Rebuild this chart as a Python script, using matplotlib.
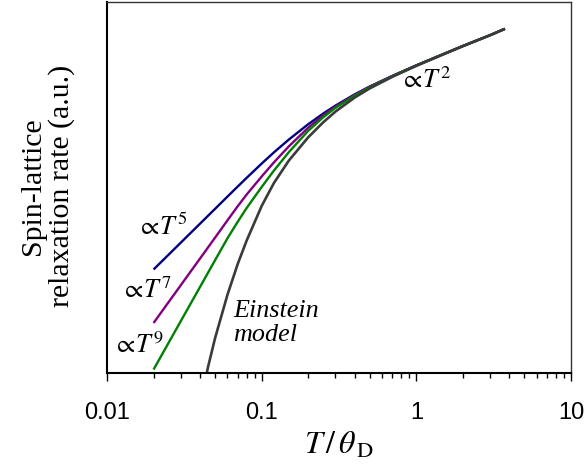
import matplotlib
matplotlib.use("Agg")
import matplotlib.pyplot as plt
from matplotlib.ticker import LogLocator, NullFormatter, FixedLocator, FixedFormatter

plt.rcParams["mathtext.fontset"] = "stix"

# Reduced temperature T/theta_D
x_low = [0.02, 0.03, 0.04, 0.05, 0.06, 0.07, 0.08, 0.1, 0.12, 0.15, 0.2, 0.25, 0.3,
         0.4, 0.5, 0.7, 1.0, 1.5, 2.0, 3.0, 3.74]

# Debye-type Raman rates (arbitrary units)
rate_t5 = [2.41e-9, 1.82e-8, 7.63e-8, 2.32e-7, 5.77e-7, 1.24e-6, 2.39e-6, 6.97e-6,
           1.62e-5, 4.27e-5, 1.35e-4, 3.01e-4, 5.48e-4, 1.28e-3, 2.31e-3, 5.12e-3,
           1.13e-2, 2.66e-2, 4.86e-2, 0.110, 0.177]
rate_t7 = [4.31e-11, 7.40e-10, 5.56e-9, 2.66e-8, 9.63e-8, 2.82e-7, 6.81e-7, 2.64e-6,
           7.63e-6, 2.56e-5, 1.04e-4, 2.62e-4, 5.08e-4, 1.23e-3, 2.27e-3, 5.08e-3,
           1.13e-2, 2.66e-2, 4.86e-2, 0.110, 0.177]
rate_t9 = [1.30e-12, 4.97e-11, 6.56e-10, 4.89e-9, 2.49e-8, 8.74e-8, 2.47e-7, 1.20e-6,
           4.12e-6, 1.66e-5, 8.22e-5, 2.27e-4, 4.61e-4, 1.17e-3, 2.17e-3, 5.00e-3,
           1.12e-2, 2.65e-2, 4.86e-2, 0.110, 0.177]

# Einstein model
x_ein = [0.04, 0.045, 0.05, 0.06, 0.07, 0.08, 0.1, 0.12, 0.15, 0.2, 0.25, 0.3, 0.4,
         0.5, 0.7, 1.0, 1.5, 2.0, 3.0, 3.74]
rate_ein = [9.0e-14, 1.57e-12, 1.39e-11, 3.51e-10, 3.65e-9, 2.14e-8, 2.87e-7, 1.62e-6,
            8.80e-6, 5.04e-5, 1.56e-4, 3.49e-4, 1.01e-3, 2.00e-3, 4.78e-3, 1.09e-2,
            2.60e-2, 4.78e-2, 0.109, 0.177]

x_ticks = [0.01, 0.1, 1, 10]
x_ticklabels = ["0.01", "0.1", "1", "10"]

fig = plt.figure(figsize=(5.87, 4.65), dpi=100)
ax = fig.add_axes([107 / 587, 1 - 373 / 465, (571 - 107) / 587, (373 - 2) / 465])

ax.plot(x_low, rate_t5, color="#000080", lw=1.7, solid_capstyle="butt")
ax.plot(x_low, rate_t7, color="#800080", lw=1.7, solid_capstyle="butt")
ax.plot(x_low, rate_t9, color="#008000", lw=1.7, solid_capstyle="butt")
ax.plot(x_ein, rate_ein, color="#3a3a3a", lw=1.9, solid_capstyle="butt")

ax.set_xscale("log")
ax.set_yscale("log")
ax.set_xlim(0.01, 10)
ax.set_ylim(1e-12, 10 ** 0.124)


def ypos(px_above_axis):
    # vertical text anchor, given as pixel height above the bottom axis
    return 10 ** (px_above_axis / 30.6 - 12)


ax.xaxis.set_major_locator(FixedLocator(x_ticks))
ax.xaxis.set_major_formatter(FixedFormatter(x_ticklabels))
ax.xaxis.set_minor_locator(LogLocator(base=10, subs=range(2, 10)))
ax.xaxis.set_minor_formatter(NullFormatter())
ax.tick_params(axis="x", which="major", direction="out", length=5.5, width=1.0,
               pad=15.5, labelsize=17, top=False)
ax.tick_params(axis="x", which="minor", direction="out", length=3.5, width=1.0, top=False)
for lab in ax.get_xticklabels():
    lab.set_fontfamily("Liberation Sans")
ax.yaxis.set_major_locator(FixedLocator([]))
ax.yaxis.set_minor_locator(FixedLocator([]))
ax.tick_params(axis="y", which="both", left=False, right=False, labelleft=False)

for side in ("left", "bottom"):
    ax.spines[side].set_linewidth(1.5)
    ax.spines[side].set_color("black")
for side in ("top", "right"):
    ax.spines[side].set_linewidth(1.0)
    ax.spines[side].set_color("#333333")

ax.set_xlabel(r"$T\,/\,\theta_{\,\mathrm{D}}$", fontsize=23, labelpad=4)
fig.text(47.5 / 587, 1 - 186 / 465, "Spin-lattice\nrelaxation rate (a.u.)",
         rotation=90, ha="center", va="center", fontsize=21.5,
         fontfamily="Liberation Serif", linespacing=1.1, multialignment="center")

tfs = 19
ax.text(0.01560, ypos(373 - 228), r"${\propto}\!T^{5}$", fontsize=tfs, va="center")
ax.text(0.01230, ypos(373 - 291), r"${\propto}\!T^{7}$", fontsize=tfs, va="center")
ax.text(0.01090, ypos(373 - 346), r"${\propto}\!T^{9}$", fontsize=tfs, va="center")
ax.text(0.790, ypos(373 - 81), r"${\propto}\!T^{2}$", fontsize=tfs, va="center")
ax.text(0.0652, ypos(373 - 323), "Einstein\nmodel", fontsize=18.8,
        fontfamily="Liberation Serif", style="italic", va="center", ha="left",
        linespacing=1.15)

fig.savefig("out.png", dpi=100)
